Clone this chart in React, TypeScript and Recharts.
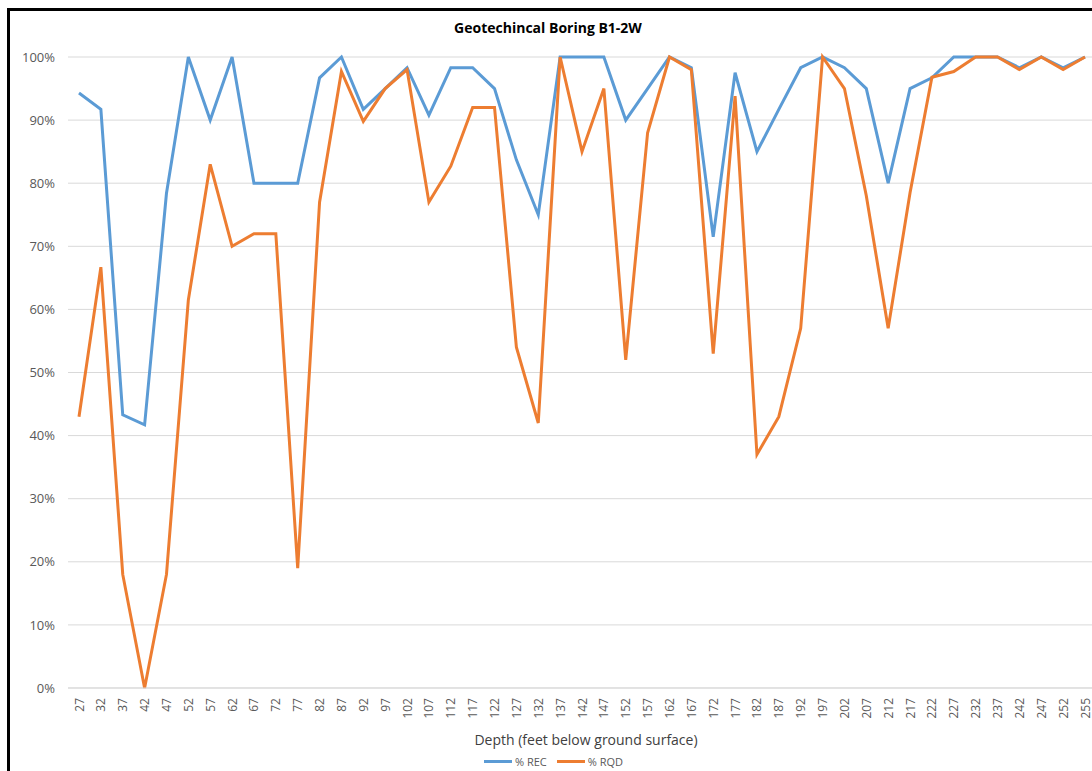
import { LineChart, Line, XAxis, YAxis, CartesianGrid } from "recharts";

const depths = [
  "27", "32", "37", "42", "47", "52", "57", "62", "67", "72", "77", "82",
  "87", "92", "97", "102", "107", "112", "117", "122", "127", "132", "137",
  "142", "147", "152", "157", "162", "167", "172", "177", "182", "187",
  "192", "197", "202", "207", "212", "217", "222", "227", "232", "237",
  "242", "247", "252", "255",
];

const rec = [
  94.3, 91.7, 43.3, 41.7, 78.4, 100, 90, 100, 80, 80, 80, 96.7,
  100, 91.7, 95, 98.3, 90.8, 98.3, 98.3, 95, 83.7, 75, 100,
  100, 100, 90, 95, 100, 98.3, 71.5, 97.5, 85, 91.7,
  98.3, 100, 98.3, 95, 80, 95, 96.7, 100, 100, 100,
  98.3, 100, 98.3, 100,
];

const rqd = [
  43, 66.7, 18, 0, 18, 61.5, 83, 70, 72, 72, 19, 77,
  97.7, 89.8, 95, 98, 77, 82.7, 92, 92, 54, 42, 100,
  85, 95, 52, 88, 100, 98, 53, 93.8, 37, 43,
  57, 100, 95, 78, 57, 78.5, 96.8, 97.7, 100, 100,
  98, 100, 98, 100,
];

const yTicks = [0, 10, 20, 30, 40, 50, 60, 70, 80, 90, 100];

const COLORS = {
  rec: "#5B9BD5",
  rqd: "#ED7D31",
};

const FONT = "'Open Sans', 'Noto Sans', sans-serif";

const series = [
  { key: "rec", name: "% REC", color: COLORS.rec },
  { key: "rqd", name: "% RQD", color: COLORS.rqd },
];

const data = depths.map((d, i) => ({ depth: d, rec: rec[i], rqd: rqd[i] }));

function DepthTick({ x, y, payload }: any) {
  const ty = y + 2;
  return (
    <text
      x={x}
      y={ty}
      transform={`rotate(-90, ${x}, ${ty})`}
      textAnchor="end"
      dominantBaseline="central"
      fontSize={12}
      fontFamily={FONT}
      fill="#595959"
    >
      {payload.value}
    </text>
  );
}

export default function App() {
  return (
    <div
      style={{
        position: "absolute", left: 0, top: 0, width: 1092, height: 771,
        overflow: "hidden", background: "#fff", fontFamily: FONT,
      }}
    >
      <div
        style={{
          position: "absolute", left: 7, top: 8, width: 1200, height: 900,
          border: "3px solid #000",
        }}
      />
      <div
        style={{
          position: "absolute", left: 0, top: 18, width: 1096, textAlign: "center",
          fontWeight: 700, fontSize: 14, color: "#000",
        }}
      >
        Geotechincal Boring B1-2W
      </div>
      <div style={{ position: "absolute", left: 0, top: 0 }}>
        <LineChart
          width={1096}
          height={771}
          data={data}
          margin={{ top: 57, right: 0, left: 0, bottom: 0 }}
        >
          <CartesianGrid vertical={false} stroke="#d9d9d9" strokeWidth={1} />
          <XAxis
            dataKey="depth"
            interval={0}
            height={83}
            padding={{ left: 11, right: 11 }}
            tickLine={false}
            axisLine={{ stroke: "#d9d9d9" }}
            tick={<DepthTick />}
          />
          <YAxis
            width={68}
            domain={[0, 100]}
            ticks={yTicks}
            tickFormatter={(v) => `${v}%`}
            axisLine={false}
            tickLine={false}
            tickMargin={7}
            tick={{ fontSize: 13, fill: "#595959", fontFamily: FONT }}
          />
          {series.map((s) => (
            <Line
              key={s.key}
              type="linear"
              dataKey={s.key}
              name={s.name}
              stroke={s.color}
              strokeWidth={3}
              dot={false}
              isAnimationActive={false}
            />
          ))}
        </LineChart>
      </div>
      <div
        style={{
          position: "absolute", left: 446, top: 730, width: 280, textAlign: "center",
          fontSize: 14, color: "#404040",
        }}
      >
        Depth (feet below ground surface)
      </div>
      <div
        style={{
          position: "absolute", left: 484, top: 754, display: "flex", alignItems: "center",
          fontSize: 11, color: "#595959",
        }}
      >
        {series.map((s) => (
          <div key={s.key} style={{ display: "flex", alignItems: "center", marginRight: 10 }}>
            <div style={{ width: 28, height: 3, background: s.color, marginRight: 3 }} />
            <span>{s.name}</span>
          </div>
        ))}
      </div>
    </div>
  );
}
